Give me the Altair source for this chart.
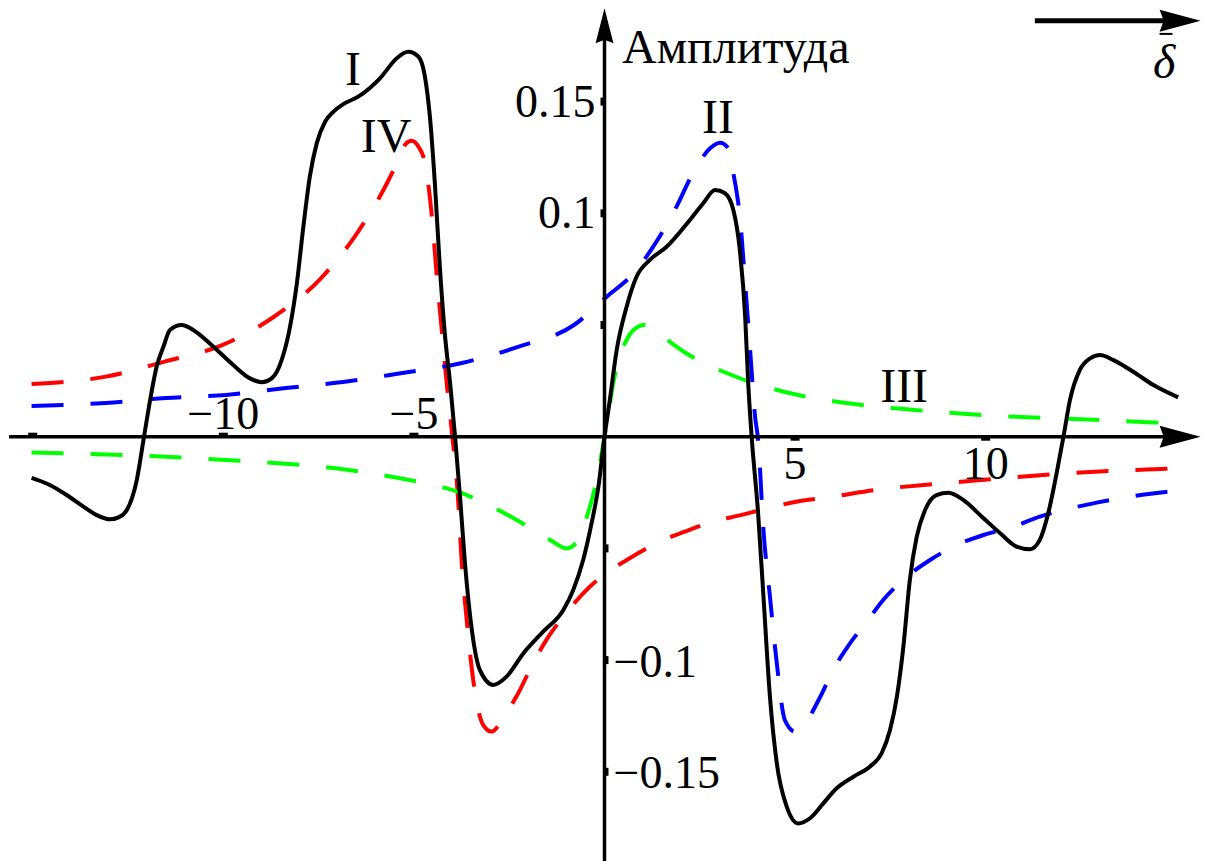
import altair as alt
import pandas as pd

# ---- curve I: resulting line (black, solid) ----
I_X = [-15.03, -14.55, -14.11, -13.67, -13.32, -12.97, -12.75, -12.53, -12.27, -12.08,
       -11.92, -11.75, -11.57, -11.40, -11.09, -10.79, -10.26, -9.74, -9.30, -8.99,
       -8.73, -8.47, -8.25, -8.07, -7.90, -7.73, -7.55, -7.33, -7.11, -6.85,
       -6.46, -5.89, -5.45, -5.15, -4.88, -4.71, -4.58, -4.45, -4.32, -4.19,
       -4.05, -3.92, -3.79, -3.66, -3.48, -3.27, -2.92, -2.57, -2.13, -1.61,
       -1.08, -0.82, -0.56, -0.34, -0.16, 0.0, 0.14, 0.32, 0.58, 0.84,
       1.19, 1.63, 2.24, 2.59, 2.90, 3.16, 3.38, 3.55, 3.69, 3.77,
       3.86, 4.03, 4.17, 4.34, 4.52, 4.78, 5.08, 5.39, 5.74, 6.09,
       6.53, 6.96, 7.27, 7.49, 7.67, 7.84, 8.01, 8.19, 8.41, 8.71,
       9.02, 9.41, 9.90, 10.38, 10.81, 11.16, 11.42, 11.64, 11.86, 12.04,
       12.21, 12.47, 12.74, 13.00, 13.35, 13.87, 14.40, 15.05]
I_Y = [-0.0184, -0.0216, -0.0261, -0.0313, -0.0351, -0.0370, -0.0361, -0.0328, -0.0194, 0.0,
       0.0164, 0.0313, 0.0403, 0.0478, 0.0500, 0.0478, 0.0403, 0.0321, 0.0261, 0.0244,
       0.0261, 0.0343, 0.0492, 0.0687, 0.0940, 0.1164, 0.1313, 0.1410, 0.1455, 0.1489,
       0.1522, 0.1604, 0.1694, 0.1723, 0.1701, 0.1611, 0.1432, 0.1134, 0.0761, 0.0463,
       0.0239, 0.0, -0.0269, -0.0567, -0.0865, -0.1044, -0.1111, -0.1074, -0.0970, -0.0873,
       -0.0776, -0.0686, -0.0552, -0.0388, -0.0224, 0.0, 0.0164, 0.0388, 0.0582, 0.0716,
       0.0791, 0.0850, 0.0970, 0.1045, 0.1104, 0.1090, 0.1015, 0.0836, 0.0537, 0.0239,
       0.0, -0.0343, -0.0716, -0.1164, -0.1462, -0.1656, -0.1731, -0.1708, -0.1641, -0.1574,
       -0.1522, -0.1477, -0.1417, -0.1313, -0.1164, -0.0940, -0.0641, -0.0448, -0.0328, -0.0261,
       -0.0251, -0.0283, -0.0358, -0.0432, -0.0492, -0.0504, -0.0462, -0.0343, -0.0164, 0.0,
       0.0164, 0.0299, 0.0351, 0.0366, 0.0343, 0.0291, 0.0231, 0.0176]

# ---- curve II (blue, dashed) ----
II_X = [-15.03, -13.08, -11.50, -9.93, -8.36, -6.81, -5.39, -3.74, -2.27, -0.80,
        0.06, 0.76, 1.27, 1.89, 2.32, 2.77, 3.03, 3.25, 3.38, 3.55,
        3.69, 3.82, 3.95, 4.03, 4.17, 4.34, 4.52, 4.73, 5.00, 5.26,
        5.66, 6.00, 6.44, 6.88, 7.31, 7.93, 8.54, 9.24, 9.94, 10.72,
        11.42, 12.21, 12.91, 13.74, 14.44, 15.05]
II_Y = [0.0137, 0.0151, 0.0173, 0.0187, 0.0218, 0.0246, 0.0283, 0.0330, 0.0402, 0.0500,
        0.0627, 0.0731, 0.0849, 0.1030, 0.1180, 0.1291, 0.1316, 0.1291, 0.1180, 0.0985,
        0.0688, 0.0388, 0.0090, -0.0015, -0.0418, -0.0716, -0.1014, -0.1268, -0.1320, -0.1283,
        -0.1164, -0.1044, -0.0925, -0.0828, -0.0731, -0.0627, -0.0552, -0.0485, -0.0440, -0.0403,
        -0.0358, -0.0321, -0.0295, -0.0269, -0.0253, -0.0242]

# ---- curve III (green, dashed) ----
III_X = [-15.03, -13.05, -11.49, -9.93, -8.37, -6.81, -5.40, -3.76, -2.37, -1.43,
         -0.99, -0.69, -0.43, -0.20, 0.0, 0.10, 0.22, 0.40, 0.58, 0.76,
         1.06, 1.28, 2.11, 3.50, 4.96, 6.60, 8.12, 9.69, 11.25, 12.83,
         14.40, 15.05]
III_Y = [-0.0071, -0.0080, -0.0090, -0.0104, -0.0121, -0.0147, -0.0185, -0.0252, -0.0366, -0.0462,
         -0.0500, -0.0462, -0.0340, -0.0190, 0.0, 0.0100, 0.0230, 0.0360, 0.0433, 0.0478,
         0.0500, 0.0478, 0.0377, 0.0265, 0.0191, 0.0145, 0.0120, 0.0099, 0.0086, 0.0076,
         0.0064, 0.0059]

# ---- curve IV (red, dashed) ----
IV_X = [-15.03, -13.08, -11.54, -10.03, -8.67, -7.44, -6.48, -5.69, -5.50, -5.22,
        -5.06, -4.88, -4.71, -4.53, -4.40, -4.27, -4.14, -4.01, -3.84, -3.75,
        -3.61, -3.44, -3.18, -2.96, -2.74, -2.57, -2.26, -1.87, -1.47, -1.08,
        -0.56, -0.12, 0.67, 1.37, 2.11, 2.85, 3.60, 4.25, 5.13, 5.96,
        7.07, 8.64, 10.18, 11.75, 13.30, 14.74, 15.05]
IV_Y = [0.0236, 0.0269, 0.0336, 0.0410, 0.0537, 0.0709, 0.0914, 0.1140, 0.1206, 0.1310,
        0.1325, 0.1298, 0.1225, 0.0988, 0.0719, 0.0478, 0.0240, 0.0030, -0.0283, -0.0552,
        -0.0829, -0.1094, -0.1291, -0.1320, -0.1283, -0.1237, -0.1147, -0.1013, -0.0895, -0.0806,
        -0.0701, -0.0632, -0.0543, -0.0476, -0.0425, -0.0380, -0.0350, -0.0321, -0.0288, -0.0269,
        -0.0239, -0.0212, -0.0190, -0.0168, -0.0153, -0.0144, -0.0141]

for xs_, ys_ in [(I_X, I_Y), (II_X, II_Y), (III_X, III_Y), (IV_X, IV_Y)]:
    assert len(xs_) == len(ys_)

# ---- axes, ticks and labels ----
X_DOMAIN = [-15.858, 15.753]
Y_DOMAIN = [-0.18993, 0.19548]
X_AXIS_SPAN = [-15.62, 15.0]
Y_AXIS_SPAN = [-0.1899, 0.1839]
X_TICKS_ABOVE = [-15, -10, -5]
X_TICKS_BELOW = [5, 10, 15]
Y_TICKS_LEFT = [0.05, 0.1, 0.15]
Y_TICKS_RIGHT = [-0.05, -0.1, -0.15]
X_LABELS_NEG = [-10, -5]
X_LABELS_POS = [5, 10]
Y_LABELS_POS = [0.1, 0.15]
Y_LABELS_NEG = [-0.1, -0.15]

CURVE_NAMES = ["I", "II", "III", "IV"]
CURVE_NAME_X = [-6.60, 2.98, 7.86, -5.73]
CURVE_NAME_Y = [0.1574, 0.1359, 0.0155, 0.1274]

Y_TITLE = "Амплитуда"
Y_TITLE_POS = (0.46, 0.1672)
DIRECTION_SPAN = [11.29, 15.0]
DIRECTION_Y = 0.1862
DELTA_POS = (14.68, 0.1606)
DELTA_BAR = [14.56, 14.90]
DELTA_BAR_Y = 0.1803
ARROW_RIGHT_AT = [(15.10, 0.0), (15.10, 0.1862)]
ARROW_UP_AT = [(0.0, 0.1839)]

FONT = "Liberation Serif"
NUM_SIZE = 46
TEXT_SIZE = 48
DASH = [32, 27]

xsc = alt.Scale(domain=X_DOMAIN, nice=False, zero=False)
ysc = alt.Scale(domain=Y_DOMAIN, nice=False, zero=False)


def X(field="x"):
    return alt.X(f"{field}:Q", scale=xsc, axis=None)


def Y(field="y"):
    return alt.Y(f"{field}:Q", scale=ysc, axis=None)


def curve(xv, yv, color, dash=None, width=4):
    kw = dict(color=color, strokeWidth=width, interpolate="monotone")
    if dash:
        kw["strokeDash"] = dash
    df = pd.DataFrame({"x": xv, "y": yv})
    return alt.Chart(df).mark_line(**kw).encode(x=X(), y=Y())


def fmt(v):
    return str(v).replace("-", "\u2212")


layers = [
    curve(IV_X, IV_Y, "#ff0000", DASH),
    curve(II_X, II_Y, "#0000ff", DASH),
    curve(III_X, III_Y, "#00ff00", DASH),
    curve(I_X, I_Y, "#000000", None, 4),
]

# axis lines
layers.append(
    alt.Chart(pd.DataFrame({"x": [X_AXIS_SPAN[0]], "x2": [X_AXIS_SPAN[1]], "y": [0.0]}))
    .mark_rule(color="black", strokeWidth=3.5)
    .encode(x=X(), x2="x2:Q", y=Y())
)
layers.append(
    alt.Chart(pd.DataFrame({"x": [0.0], "y": [Y_AXIS_SPAN[0]], "y2": [Y_AXIS_SPAN[1]]}))
    .mark_rule(color="black", strokeWidth=3.5)
    .encode(x=X(), y=Y(), y2="y2:Q")
)

# tick marks
layers.append(
    alt.Chart(pd.DataFrame({"x": X_TICKS_ABOVE, "y": [0.0] * len(X_TICKS_ABOVE)}))
    .mark_tick(orient="horizontal", size=9, thickness=4, color="black", opacity=1, yOffset=-2)
    .encode(x=X(), y=Y())
)
layers.append(
    alt.Chart(pd.DataFrame({"x": X_TICKS_BELOW, "y": [0.0] * len(X_TICKS_BELOW)}))
    .mark_tick(orient="horizontal", size=9, thickness=4, color="black", opacity=1, yOffset=2)
    .encode(x=X(), y=Y())
)
layers.append(
    alt.Chart(pd.DataFrame({"x": [0.0] * len(Y_TICKS_LEFT), "y": Y_TICKS_LEFT}))
    .mark_tick(orient="vertical", size=8, thickness=4, color="black", opacity=1, xOffset=-2)
    .encode(x=X(), y=Y())
)
layers.append(
    alt.Chart(pd.DataFrame({"x": [0.0] * len(Y_TICKS_RIGHT), "y": Y_TICKS_RIGHT}))
    .mark_tick(orient="vertical", size=8, thickness=4, color="black", opacity=1, xOffset=2)
    .encode(x=X(), y=Y())
)

# tick labels
num = dict(font=FONT, fontSize=NUM_SIZE, color="black", baseline="alphabetic")
layers.append(
    alt.Chart(pd.DataFrame({"x": X_LABELS_NEG, "y": [0.0] * 2, "t": [fmt(v) for v in X_LABELS_NEG]}))
    .mark_text(align="center", dy=-7.5, **num)
    .encode(x=X(), y=Y(), text="t:N")
)
layers.append(
    alt.Chart(pd.DataFrame({"x": X_LABELS_POS, "y": [0.0] * 2, "t": [fmt(v) for v in X_LABELS_POS]}))
    .mark_text(align="center", dy=42, **num)
    .encode(x=X(), y=Y(), text="t:N")
)
layers.append(
    alt.Chart(pd.DataFrame({"x": [0.0] * 2, "y": Y_LABELS_POS, "t": [fmt(v) for v in Y_LABELS_POS]}))
    .mark_text(align="right", dx=-9, dy=15, **num)
    .encode(x=X(), y=Y(), text="t:N")
)
layers.append(
    alt.Chart(pd.DataFrame({"x": [0.0] * 2, "y": Y_LABELS_NEG, "t": [fmt(v) for v in Y_LABELS_NEG]}))
    .mark_text(align="left", dx=9, dy=16.5, **num)
    .encode(x=X(), y=Y(), text="t:N")
)

# curve names and axis captions
txt = dict(font=FONT, fontSize=TEXT_SIZE, color="black", baseline="alphabetic")
layers.append(
    alt.Chart(pd.DataFrame({"x": CURVE_NAME_X, "y": CURVE_NAME_Y, "t": CURVE_NAMES}))
    .mark_text(align="center", **txt)
    .encode(x=X(), y=Y(), text="t:N")
)
layers.append(
    alt.Chart(pd.DataFrame({"x": [Y_TITLE_POS[0]], "y": [Y_TITLE_POS[1]], "t": [Y_TITLE]}))
    .mark_text(align="left", **txt)
    .encode(x=X(), y=Y(), text="t:N")
)
layers.append(
    alt.Chart(pd.DataFrame({"x": [DELTA_POS[0]], "y": [DELTA_POS[1]], "t": ["δ"]}))
    .mark_text(align="center", fontStyle="italic", **txt)
    .encode(x=X(), y=Y(), text="t:N")
)
layers.append(
    alt.Chart(pd.DataFrame({"x": [DELTA_BAR[0]], "x2": [DELTA_BAR[1]], "y": [DELTA_BAR_Y]}))
    .mark_rule(color="black", strokeWidth=2)
    .encode(x=X(), x2="x2:Q", y=Y())
)
layers.append(
    alt.Chart(pd.DataFrame({"x": [DIRECTION_SPAN[0]], "x2": [DIRECTION_SPAN[1]], "y": [DIRECTION_Y]}))
    .mark_rule(color="black", strokeWidth=5)
    .encode(x=X(), x2="x2:Q", y=Y())
)

# arrowheads
ARROW_RIGHT = "M 1 0 L -1 -0.54 L -0.8 0 L -1 0.54 Z"
ARROW_UP = "M 0 -1 L 0.51 1 L 0 0.8 L -0.51 1 Z"
layers.append(
    alt.Chart(pd.DataFrame({"x": [p[0] for p in ARROW_RIGHT_AT], "y": [p[1] for p in ARROW_RIGHT_AT]}))
    .mark_point(shape=ARROW_RIGHT, filled=True, size=1681, color="black", opacity=1, strokeWidth=0)
    .encode(x=X(), y=Y())
)
layers.append(
    alt.Chart(pd.DataFrame({"x": [p[0] for p in ARROW_UP_AT], "y": [p[1] for p in ARROW_UP_AT]}))
    .mark_point(shape=ARROW_UP, filled=True, size=1225, color="black", opacity=1, strokeWidth=0)
    .encode(x=X(), y=Y())
)

chart = (
    alt.layer(*layers)
    .properties(width=1205, height=861, padding=0, autosize=alt.AutoSizeParams(type="none"),
                background="white")
    .configure_view(strokeWidth=0)
)

chart.save("out.html", embed_options={"renderer": "svg", "actions": False})
